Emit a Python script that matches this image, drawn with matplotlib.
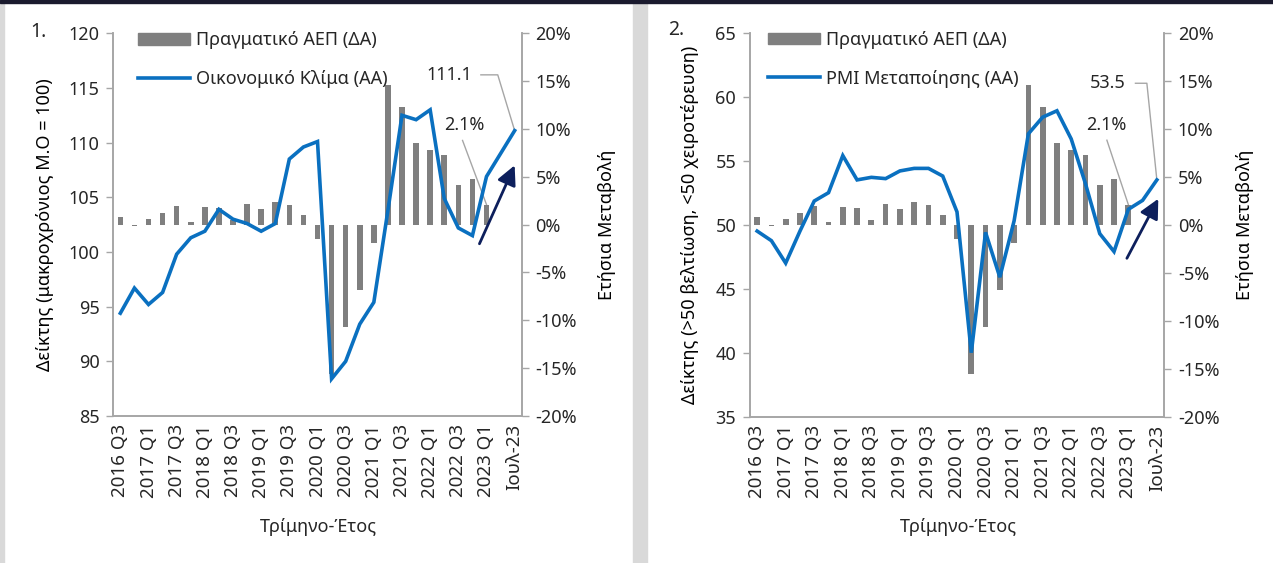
import numpy as np
import matplotlib.pyplot as plt
from matplotlib.patches import Rectangle
from matplotlib.lines import Line2D

plt.rcParams['font.family'] = ['Noto Sans', 'DejaVu Sans']
plt.rcParams['font.size'] = 13
plt.rcParams['text.color'] = '#262626'
plt.rcParams['xtick.color'] = '#a6a6a6'
plt.rcParams['ytick.color'] = '#a6a6a6'
plt.rcParams['xtick.labelcolor'] = '#262626'
plt.rcParams['ytick.labelcolor'] = '#262626'

# Categories (quarters + last month)
categories = ["2016 Q3", "2016 Q4", "2017 Q1", "2017 Q2", "2017 Q3", "2017 Q4",
              "2018 Q1", "2018 Q2", "2018 Q3", "2018 Q4", "2019 Q1", "2019 Q2",
              "2019 Q3", "2019 Q4", "2020 Q1", "2020 Q2", "2020 Q3", "2020 Q4",
              "2021 Q1", "2021 Q2", "2021 Q3", "2021 Q4", "2022 Q1", "2022 Q2",
              "2022 Q3", "2022 Q4", "2023 Q1", "2023 Q2", "Ιουλ-23"]

# Real GDP, annual change % (right axis)
gdp = [0.8, -0.15, 0.6, 1.2, 1.9, 0.3, 1.8, 1.7, 0.5, 2.2, 1.6, 2.4, 2.1, 1.0,
       -1.5, -15.6, -10.7, -6.8, -1.9, 14.6, 12.3, 8.5, 7.8, 7.3, 4.1, 4.8, 2.1,
       np.nan, np.nan]

# Economic sentiment index (left axis, panel 1)
climate = [94.4, 96.7, 95.2, 96.3, 99.8, 101.3, 101.9, 103.9, 103.0, 102.6,
           101.9, 102.6, 108.5, 109.6, 110.1, 88.4, 90.0, 93.4, 95.4, 103.8,
           112.5, 112.1, 113.0, 104.9, 102.2, 101.5, 106.9, 109.0, 111.1]

# Manufacturing PMI (left axis, panel 2)
pmi = [49.5, 48.75, 47.0, 49.5, 51.85, 52.5, 55.4, 53.5, 53.7, 53.6, 54.2,
       54.4, 54.4, 53.8, 51.0, 40.0, 49.4, 45.9, 50.3, 57.1, 58.4, 58.9, 56.7,
       53.2, 49.3, 47.9, 51.2, 51.9, 53.5]

BAR = '#7f7f7f'
BLUE = '#0a70c0'
NAVY = '#0d1f5c'
GRID = '#a6a6a6'

fig = plt.figure(figsize=(12.73, 5.63), dpi=100)

# frame decorations
fig.patches.append(Rectangle((0, 0), 4 / 1273, 1, transform=fig.transFigure,
                             color='#d9d9d9', zorder=0))
fig.patches.append(Rectangle((633 / 1273, 0), 14 / 1273, 1, transform=fig.transFigure,
                             color='#d9d9d9', zorder=0))
fig.patches.append(Rectangle((0, 1 - 3 / 563), 1, 3 / 563, transform=fig.transFigure,
                             color='#1a1a2e', zorder=0))

x = np.arange(len(categories))


def panel(rect, series, ylim, yticks, ylabel, line_label, last_label,
          ylab_x, y2lab_x, leg_x, last_txt, last_leader, gdp_txt, gdp_leader,
          arrow_from, arrow_to):
    ax = fig.add_axes(rect)
    ax2 = ax.twinx()
    ax.set_zorder(ax2.get_zorder() + 1)
    ax.patch.set_visible(False)

    ax2.bar(x, gdp, width=0.4, color=BAR, zorder=2)
    ax.plot(x, series, color=BLUE, lw=2.6, zorder=3, solid_joinstyle='miter')

    ax.set_xlim(-0.5, 28.5)
    ax.set_ylim(*ylim)
    ax.set_yticks(yticks)
    ax2.set_ylim(-20, 20)
    ax2.set_yticks(np.arange(-20, 21, 5))
    ax2.set_yticklabels([f"{v}%" for v in range(-20, 21, 5)])

    ax.set_xticks(x[::2])
    ax.set_xticklabels(categories[::2], rotation=90, fontsize=13.5)
    ax.tick_params(axis='x', length=0, pad=6)
    ax.tick_params(axis='y', length=5, width=1, pad=5)
    ax2.tick_params(axis='y', length=5, width=1, pad=5)

    for a in (ax, ax2):
        a.spines['top'].set_visible(False)
        for s in ('left', 'right', 'bottom'):
            a.spines[s].set_color(GRID)
            a.spines[s].set_linewidth(1.2)

    ax.set_ylabel(ylabel)
    ax.yaxis.set_label_coords(ylab_x, 0.5)
    ax2.set_ylabel("Ετήσια Μεταβολή")
    ax2.yaxis.set_label_coords(y2lab_x, 0.5)

    bar_handle = Rectangle((0, 0), 1, 1, color=BAR)
    line_handle = Line2D([], [], color=BLUE, lw=2.6)
    ax.legend([bar_handle, line_handle], ["Πραγματικό ΑΕΠ (ΔΑ)", line_label],
              loc='upper left', bbox_to_anchor=(leg_x, 1.005), frameon=False,
              borderpad=0, borderaxespad=0, handlelength=2.9,
              handleheight=0.6, handletextpad=0.3, labelspacing=1.15)

    # last value label with leader
    ax.text(last_txt[0], last_txt[1], last_label, ha='right', va='center')
    ax.plot(last_leader[0], last_leader[1], color=GRID, lw=1, zorder=1)
    # GDP label with leader
    ax2.text(gdp_txt[0], gdp_txt[1], "2.1%", ha='center', va='center')
    ax2.plot(gdp_leader[0], gdp_leader[1], color=GRID, lw=1, zorder=1)
    # trend arrow
    ax2.annotate('', xy=arrow_to, xytext=arrow_from,
                 arrowprops=dict(arrowstyle='-|>,head_length=0.9,head_width=0.45',
                                 color=NAVY, lw=2, shrinkA=0, shrinkB=0))
    return ax, ax2


panel([113.3 / 1273, 147 / 563, 408.4 / 1273, 382.7 / 563], climate,
      (85, 120), np.arange(85, 121, 5), "Δείκτης (μακροχρόνιος Μ.Ο = 100)",
      "Οικονομικό Κλίμα (ΑΑ)", "111.1", -0.145, 1.187, 0.06,
      (25.0, 116.2), ([25.6, 26.8, 28.0], [116.2, 116.2, 111.1]),
      (24.4, 10.4), ([24.3, 26.0], [8.8, 2.1]),
      (25.5, -2.0), (28.0, 6.2))

panel([750 / 1273, 146.3 / 563, 414 / 1273, 384 / 563], pmi,
      (35, 65), np.arange(35, 66, 5), "Δείκτης (>50 βελτίωση, <50 χειροτέρευση)",
      "PMI Μεταποίησης (ΑΑ)", "53.5", -0.123, 1.174, 0.043,
      (25.8, 61.05), ([26.5, 27.3, 28.0], [61.05, 61.05, 53.5]),
      (24.45, 10.4), ([24.5, 26.0], [8.8, 2.1]),
      (25.9, -3.5), (28.1, 2.7))

fig.text(30 / 1273, 1 - 32 / 563, "1.", ha='left', va='center', fontsize=14)
fig.text(668 / 1273, 1 - 30 / 563, "2.", ha='left', va='center', fontsize=14)
fig.text(318 / 1273, 1 - 527 / 563, "Τρίμηνο-Έτος", ha='center', va='center')
fig.text(958 / 1273, 1 - 527 / 563, "Τρίμηνο-Έτος", ha='center', va='center')

fig.savefig("out.png", dpi=100)
